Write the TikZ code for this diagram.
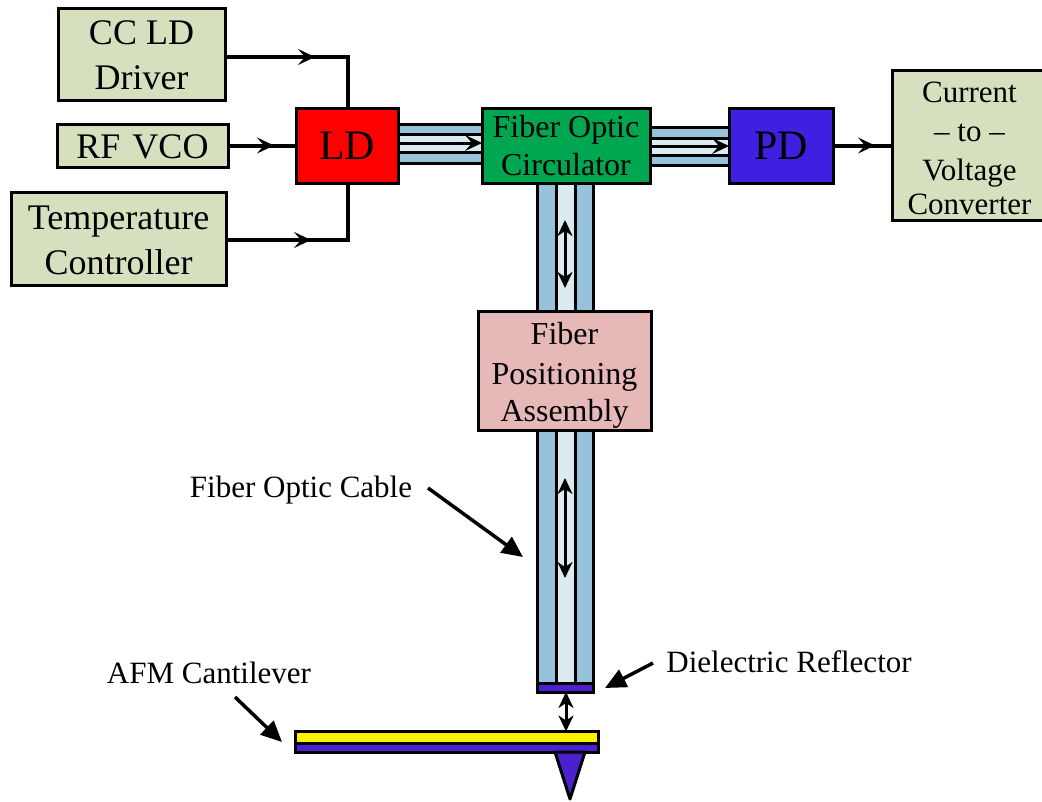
\documentclass[tikz,border=0pt]{standalone}
\usepackage{fontspec}
\setmainfont{Liberation Serif}
\usetikzlibrary{arrows.meta,decorations.markings}
\definecolor{boxgreen}{HTML}{D6E0BF}
\definecolor{circgreen}{HTML}{00A650}
\definecolor{pdblue}{HTML}{3F1FE0}
\definecolor{posnpink}{HTML}{E6B9B8}
\definecolor{cladblue}{HTML}{96C3D9}
\definecolor{coreblue}{HTML}{DCEBF2}
\definecolor{purp}{HTML}{4A20D0}
\newcommand{\fs}[1]{\fontsize{#1pt}{#1pt}\selectfont}
\newcommand{\dn}[2]{\raisebox{-#1pt}[\height][\depth]{\begin{tabular}{@{}c@{}}#2\end{tabular}}}
\tikzset{
  blockbox/.style={draw=black,line width=3pt,inner sep=0pt,outer sep=0pt,align=center},
  ctrlbox/.style={blockbox,fill=boxgreen,font=\fs{36}},
  signal/.style={draw=black,line width=4pt},
  midtip/.style={postaction={decorate},decoration={markings,mark=at position #1 with {\arrow{Stealth[length=17pt,width=16pt,inset=7pt]}}}},
  clad/.style={draw=black,line width=3pt,fill=cladblue},
  core/.style={draw=black,line width=3pt,fill=coreblue},
  thinarrow/.style={draw=black,line width=3pt,-{Stealth[length=17pt,width=16pt,inset=7pt]}},
  dblarrow/.style={draw=black,line width=3pt,{Stealth[length=16pt,width=15pt,inset=5pt]}-{Stealth[length=16pt,width=15pt,inset=5pt]}},
  callout/.style={draw=black,line width=3.5pt,-{Triangle[length=21pt,width=19pt]}},
  lab/.style={inner sep=0pt,font=\fs{31}}
}
\begin{document}
\begin{tikzpicture}[x=1pt,y=-1pt]
\useasboundingbox (0,0) rectangle (1042,801);
% blocks
\node[ctrlbox,minimum width=167pt,minimum height=92pt] (cc) at (141.5,54) {\dn{6}{CC LD\\[9.5pt]Driver}};
\node[ctrlbox,minimum width=171pt,minimum height=43pt] (rf) at (142.5,145.5) {\dn{6}{RF\,\,VCO}};
\node[ctrlbox,minimum width=215pt,minimum height=93pt] (temp) at (118.5,238.5) {\dn{6}{Temperature\\[9pt]Controller}};
\node[blockbox,fill=red,minimum width=102pt,minimum height=75pt,font=\fs{42}] (ld) at (347,145.5) {\dn{6}{LD}};
\node[blockbox,fill=circgreen,minimum width=168pt,minimum height=75pt,font=\fs{32}] (circ) at (566,145.5) {\dn{5}{Fiber Optic\\[6pt]Circulator}};
\node[blockbox,fill=pdblue,minimum width=104pt,minimum height=75pt,font=\fs{42}] (pd) at (781,145.5) {\dn{6}{PD}};
\node[blockbox,fill=boxgreen,minimum width=155pt,minimum height=150pt,font=\fs{31}] (conv) at (969.5,145) {\dn{7}{Current\\[8pt]-- to --\\[8pt]Voltage\\[3pt]Converter}};
\node[blockbox,fill=posnpink,minimum width=173pt,minimum height=119pt,font=\fs{32}] (posn) at (564.5,370.5) {\dn{6}{Fiber\\[8pt]Positioning\\[5pt]Assembly}};
% electrical connectors
\draw[signal,midtip=90pt] (cc.east |- 0,57) -- (348,57) -- (ld.north -| 348,0);
\draw[signal,midtip=46pt] (rf.east) -- (ld.west |- rf.east);
\draw[signal,midtip=85pt] (temp.east |- 0,240) -- (348,240) -- (ld.south -| 348,0);
\draw[signal,midtip=42pt] (pd.east) -- (conv.west |- pd.east);
% horizontal fibres
\draw[clad] (ld.east |- 0,124) rectangle (circ.west |- 0,163);
\draw[core] (ld.east |- 0,134) rectangle (circ.west |- 0,152);
\draw[thinarrow] (ld.east |- 0,143) -- (circ.west |- 0,143);
\draw[clad] (circ.east |- 0,127) rectangle (pd.west |- 0,165);
\draw[core] (circ.east |- 0,138) rectangle (pd.west |- 0,155);
\draw[thinarrow] (circ.east |- 0,146) -- (pd.west |- 0,146);
% vertical fibre, upper
\draw[clad] (537,0 |- circ.south) rectangle (593,0 |- posn.north);
\draw[core] (556,0 |- circ.south) rectangle (575,0 |- posn.north);
\coordinate (upA) at (565,220); \coordinate (upB) at (565,288);
\draw[dblarrow] (upA) -- (upB);
% vertical fibre, lower
\coordinate (fibEnd) at (565,684);
\draw[clad] (537,0 |- posn.south) rectangle (593,0 |- fibEnd);
\draw[core] (556,0 |- posn.south) rectangle (575,0 |- fibEnd);
\coordinate (loA) at (565,478); \coordinate (loB) at (565,578);
\draw[dblarrow] (loA) -- (loB);
% reflector
\node[draw=black,line width=3pt,fill=purp,minimum width=56pt,minimum height=9pt,inner sep=0pt,outer sep=0pt] (refl) at (565,687.5) {};
% cantilever
\node[draw=black,line width=3pt,fill=yellow,minimum width=303pt,minimum height=12pt,inner sep=0pt,outer sep=0pt] (yel) at (446.5,737.5) {};
\node[draw=black,line width=3pt,fill=purp,minimum width=303pt,minimum height=9pt,inner sep=0pt,outer sep=0pt] (pur) at (446.5,748) {};
\coordinate (tipL) at (555,752); \coordinate (tipR) at (585,752); \coordinate (tipB) at (570,799);
\draw[draw=black,line width=3pt,fill=purp,line join=round] (tipL) -- (tipR) -- (tipB) -- cycle;
\draw[dblarrow] (refl.south -| 566,0) -- (yel.north -| 566,0);
% labels
\node[lab] (lcable) at (301,490) {Fiber Optic Cable};
\node[lab] (lafm) at (209,673) {AFM Cantilever};
\node[lab] (ldiel) at (789,662) {Dielectric Reflector};
\coordinate (cA) at (428,488); \coordinate (cB) at (523,557);
\coordinate (aA) at (235,697); \coordinate (aB) at (282,742);
\coordinate (dA) at (653,663); \coordinate (dB) at (605,688);
\draw[callout] (cA) -- (cB);
\draw[callout] (aA) -- (aB);
\draw[callout] (dA) -- (dB);
\end{tikzpicture}
\end{document}
